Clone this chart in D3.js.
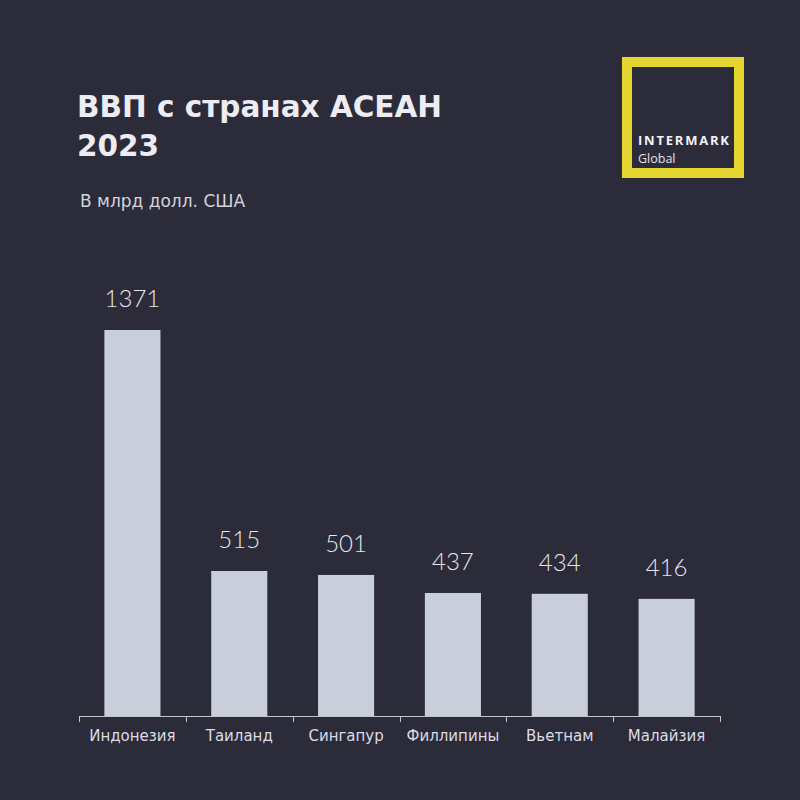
<!DOCTYPE html>
<html><head><meta charset="utf-8">
<script src="https://cdn.jsdelivr.net/npm/d3@7"></script>
<style>html,body{margin:0;padding:0;background:#2b2b3a;}</style>
</head><body>
<svg id="c" width="800" height="800"></svg>
<script>
const categories = ["Индонезия","Таиланд","Сингапур","Филлипины","Вьетнам","Малайзия"];
const values = [1371, 515, 501, 437, 434, 416];
const titleLines = ["ВВП с странах АСЕАН", "2023"];
const subtitle = "В млрд долл. США";

const svg = d3.select("#c");
svg.append("rect").attr("width",800).attr("height",800).attr("fill","#2b2b3a");

const x = d3.scaleBand().domain(categories).range([79, 720]).paddingInner(0.475).paddingOuter(0.2375);
const y = d3.scaleLinear().domain([0, 1371]).range([716, 330]);

// title
svg.append("text").attr("x",77).attr("y",117).attr("fill","#ececf2")
  .attr("font-family","'DejaVu Sans', sans-serif").attr("font-weight",700).attr("font-size",29.5)
  .text(titleLines[0]);
svg.append("text").attr("x",77).attr("y",156).attr("fill","#ececf2")
  .attr("font-family","'DejaVu Sans', sans-serif").attr("font-weight",700).attr("font-size",29.5)
  .text(titleLines[1]);
svg.append("text").attr("x",80).attr("y",207).attr("fill","#d4d4dc")
  .attr("font-family","'DejaVu Sans', sans-serif").attr("font-size",17)
  .text(subtitle);

// logo
svg.append("rect").attr("x",627).attr("y",62).attr("width",112).attr("height",111)
  .attr("fill","none").attr("stroke","#e5d530").attr("stroke-width",10);
svg.append("text").attr("x",638).attr("y",145).attr("fill","#f2f2f6")
  .attr("font-family","'Open Sans', sans-serif").attr("font-weight",700).attr("font-size",13)
  .attr("textLength",91).text("INTERMARK");
svg.append("text").attr("x",638).attr("y",163).attr("fill","#e2e2ea")
  .attr("font-family","'Open Sans', sans-serif").attr("font-size",12.5)
  .text("Global");

// bars
svg.selectAll("rect.bar").data(values).join("rect").attr("class","bar")
  .attr("x",(d,i)=>x(categories[i])).attr("width",x.bandwidth())
  .attr("y",d=>y(d)).attr("height",d=>y(0)-y(d)).attr("fill","#c9cedb");

// value labels
svg.selectAll("text.val").data(values).join("text").attr("class","val")
  .attr("x",(d,i)=>x(categories[i])+x.bandwidth()/2).attr("y",d=>y(d)-23)
  .attr("text-anchor","middle").attr("fill","#e6e6ee")
  .attr("font-family","Lato, sans-serif").attr("font-weight",300).attr("font-size",24)
  .text(d=>d);

// axis
const step = x.step();
const bounds = categories.map(c => x(c) - step*x.paddingInner()/2).concat([720]);
svg.append("line").attr("x1",79).attr("x2",720).attr("y1",716.5).attr("y2",716.5)
  .attr("stroke","#c4c4cc").attr("stroke-width",1);
svg.selectAll("line.tick").data(bounds).join("line").attr("class","tick")
  .attr("x1",d=>Math.round(d)+0.5).attr("x2",d=>Math.round(d)+0.5).attr("y1",716).attr("y2",722)
  .attr("stroke","#c4c4cc").attr("stroke-width",1);
svg.selectAll("text.cat").data(categories).join("text").attr("class","cat")
  .attr("x",d=>x(d)+x.bandwidth()/2).attr("y",741)
  .attr("text-anchor","middle").attr("fill","#dcdce4")
  .attr("font-family","'DejaVu Sans', sans-serif").attr("font-size",15)
  .text(d=>d);
</script>
</body></html>
